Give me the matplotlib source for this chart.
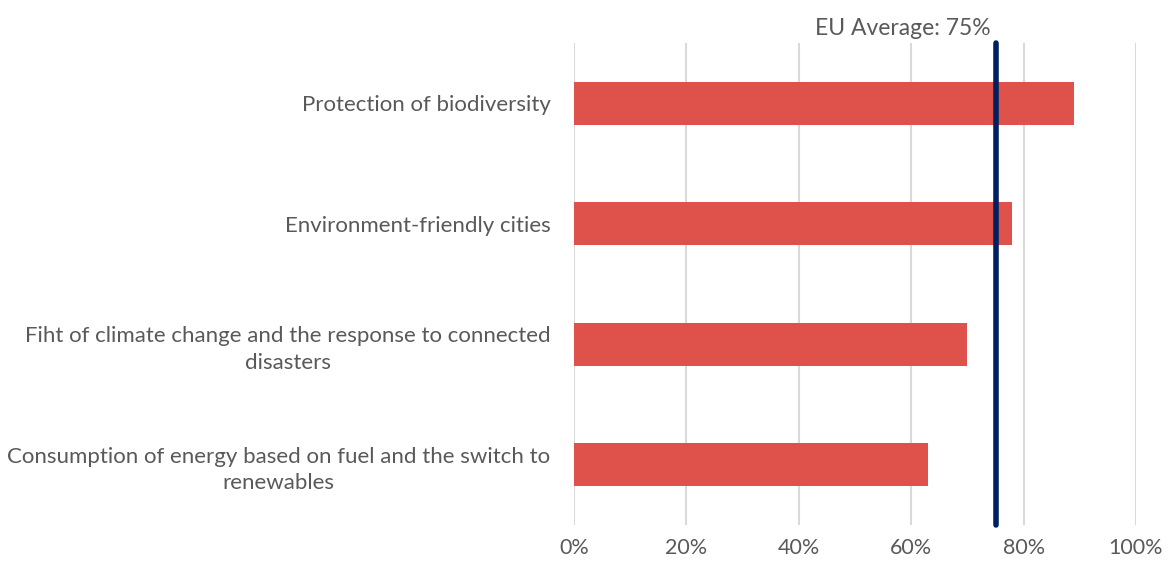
import matplotlib
matplotlib.use("Agg")
import matplotlib.pyplot as plt

categories = [
    "Protection of biodiversity",
    "Environment-friendly cities",
    "Fiht of climate change and the response to connected\ndisasters",
    "Consumption of energy based on fuel and the switch to\nrenewables",
]
values = [89, 78, 70, 63]
eu_average = 75
xticks = [0, 20, 40, 60, 80, 100]
xtick_labels = ["0%", "20%", "40%", "60%", "80%", "100%"]

plt.rcParams['font.family'] = ['Lato', 'DejaVu Sans']
txt = '#595959'

fig = plt.figure(figsize=(11.69, 5.64), dpi=100)
ax = fig.add_axes([574/1169, 39/564, 562/1169, 482/564])

ypos = list(range(len(categories)))
ax.barh(ypos, values, height=0.36, color='#DE524B', zorder=2)
ax.set_ylim(len(categories) - 0.5, -0.5)
ax.set_xlim(0, 100)
ax.set_xticks(xticks)
ax.set_xticklabels(xtick_labels, fontsize=15.5, color=txt)
ax.set_yticks(ypos)
ax.set_yticklabels(categories, fontsize=16, color=txt, ha='right',
                   multialignment='center', linespacing=1.4)
ax.tick_params(axis='both', length=0)
ax.tick_params(axis='y', pad=17)
ax.tick_params(axis='x', pad=9)
for s in ax.spines.values():
    s.set_visible(False)
ax.xaxis.grid(True, color='#d9d9d9', linewidth=1.5, zorder=0)
ax.set_axisbelow(True)

ax.plot([eu_average, eu_average], [len(categories) - 0.5, -0.5], color='#002060',
        linewidth=4, solid_capstyle='round', zorder=3, clip_on=False)
ax.text(eu_average - 0.8, -0.5 - 0.03, f"EU Average: {eu_average}%", ha='right', va='bottom',
        fontsize=16.5, color=txt, transform=ax.transData, clip_on=False)

fig.savefig("out.png", dpi=100)
